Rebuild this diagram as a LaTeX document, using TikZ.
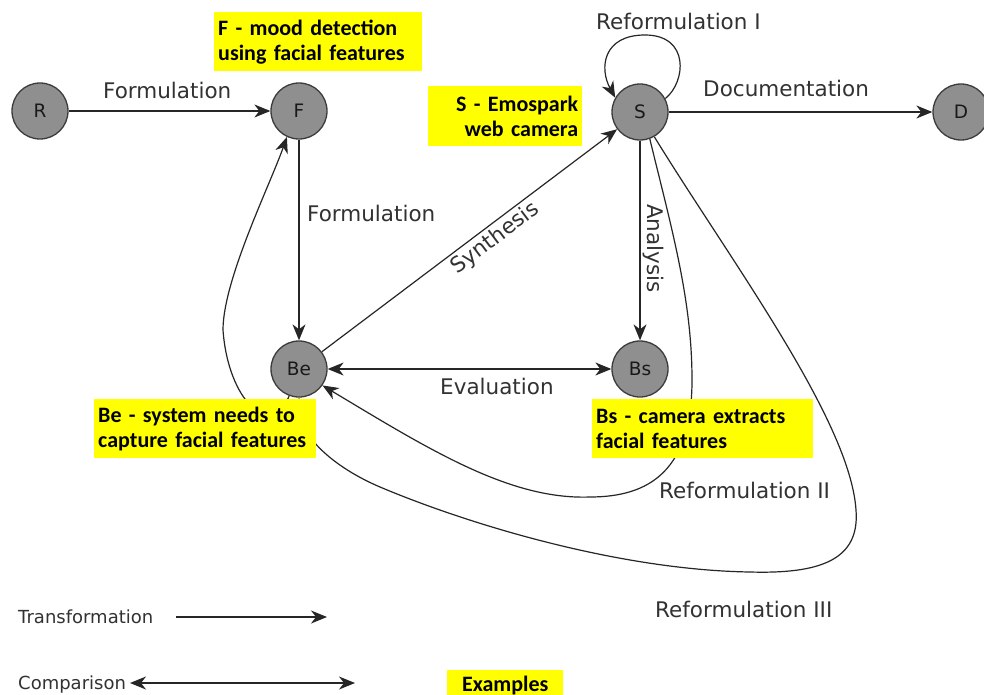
\documentclass[tikz,border=0pt]{standalone}
\usepackage{fontspec}
\setmainfont{DejaVu Sans}
\newfontfamily\boxfont{Carlito}
\usetikzlibrary{arrows.meta}
\definecolor{ynote}{RGB}{255,255,0}
\definecolor{stategray}{RGB}{143,143,143}
\definecolor{rimgray}{RGB}{60,60,60}
\definecolor{ink}{RGB}{50,50,50}
\tikzset{
  tip/.tip={Stealth[length=16pt,width=13pt,inset=5pt]},
  state/.style={circle, draw=rimgray, line width=1.3pt, fill=stategray, minimum size=56pt, inner sep=0pt,
    font=\fontsize{18.5}{20}\selectfont, text=black!90},
  conn/.style={line width=1.2pt, draw=black!85, -tip},
  cmp/.style={line width=1.2pt, draw=black!85, tip-tip},
  lbl/.style={font=\fontsize{21.5}{24}\selectfont, text=ink, inner sep=0pt},
  legend/.style={font=\fontsize{18}{20}\selectfont, text=ink, inner sep=0pt, anchor=base west},
  note/.style={fill=ynote, inner xsep=4pt, inner ysep=0pt, font=\boxfont\bfseries\fontsize{22}{25}\selectfont,
    text=black, anchor=north west}
}
\begin{document}
\begin{tikzpicture}[x=1pt,y=-1pt]
\clip (0,0) rectangle (984,695);
\fill[white] (0,0) rectangle (984,695);

% states
\node[state] (R) at (40,111) {R};
\node[state] (F) at (299,111) {F};
\node[state] (S) at (640,112) {S};
\node[state] (D) at (961,112) {D};
\node[state] (Be) at (299,369) {Be};
\node[state] (Bs) at (640,369) {Bs};

% straight transformations
\draw[conn] (R) -- (F);
\draw[conn] (F) -- (Be);
\draw[conn] (Be) -- node[lbl, sloped, below, pos=0.56, inner sep=3pt] (lSy) {Synthesis} (S);
\draw[conn] (S) -- node[lbl, sloped, above, pos=0.54, inner sep=2pt] (lAn) {Analysis} (Bs);
\draw[conn] (S) -- (D);
\draw[cmp] (Be) -- (Bs);

% reformulation I (self loop)
\draw[conn] (S.28) .. controls (686,82) and (690,35) .. (645,35)
  .. controls (603,35) and (599,68) .. (S.150);

% Be -> F
\draw[conn] (Be.250) .. controls (270,440) and (228,400) .. (223,330)
  .. controls (223,280) and (270,185) .. (F.245);

% reformulation II
\draw[conn] (S.290) .. controls (672,230) and (692,300) .. (692,380)
  .. controls (692,470) and (650,497) .. (590,497)
  .. controls (510,500) and (430,450) .. (Be.325);

% reformulation III
\draw[conn] (S.300) .. controls (730,260) and (850,420) .. (856,510)
  .. controls (860,560) and (820,574) .. (750,572)
  .. controls (620,570) and (470,525) .. (380,487)
  .. controls (340,470) and (300,440) .. (Be.south);

% edge labels
\node[lbl, anchor=base west] (lFo1) at (103,99) {Formulation};
\node[lbl, anchor=base west] (lFo2) at (307,221) {Formulation};
\node[lbl, anchor=base west] (lDo) at (703,97) {Documentation};
\node[lbl, anchor=base west] (lR1) at (596,30) {Reformulation I};
\node[lbl, anchor=base west] (lEv) at (440,394) {Evaluation};
\node[lbl, anchor=base west] (lR2) at (659,498) {Reformulation II};
\node[lbl, anchor=base west] (lR3) at (655,617) {Reformulation III};

% example notes
\node[note, minimum width=208pt, minimum height=59pt, text width=200pt, align=left] (nF) at (214,12)
  {F - mood detection\\using facial features};
\node[note, minimum width=154pt, minimum height=60pt, text width=146pt, align=right] (nS) at (428,86)
  {S - Emospark\\web camera};
\node[note, minimum width=222pt, minimum height=59pt, text width=214pt, align=left] (nBe) at (94,399)
  {Be - system needs to\\capture facial features};
\node[note, minimum width=221pt, minimum height=59pt, text width=213pt, align=left] (nBs) at (592,399)
  {Bs - camera extracts\\facial features};

% legend
\node[legend] (tTr) at (18,623) {Transformation};
\coordinate (tA) at (176,617);
\coordinate (tB) at (327,617);
\draw[conn] (tA) -- (tB);
\node[legend] (tCo) at (18,689) {Comparison};
\coordinate (cA) at (130,683);
\coordinate (cB) at (355,683);
\draw[cmp] (cA) -- (cB);
\node[note, minimum width=116pt, minimum height=30pt, align=center] (nEx) at (447,670) {Examples};
\end{tikzpicture}
\end{document}
